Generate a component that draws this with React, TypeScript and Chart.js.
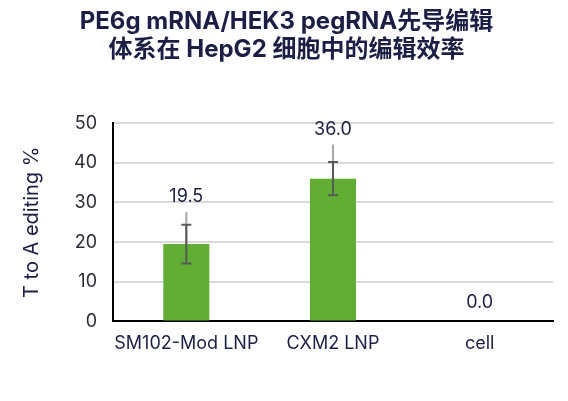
import React, { useEffect, useRef } from "react";
import { Chart, registerables } from "chart.js";

Chart.register(...registerables);

const categories = ["SM102-Mod LNP", "CXM2 LNP", "cell"];
const editing = [19.5, 36.0, 0.0];
// dark error bar (with caps), symmetric
const errSd = [4.9, 4.2, 0];
// light grey whisker above the bar
const errUpper = [8.1, 8.6, 0];
const yTicks = [0, 10, 20, 30, 40, 50];

const titleLines = ["PE6g mRNA/HEK3 pegRNA先导编辑", "体系在 HepG2 细胞中的编辑效率"];
const yTitle = "T to A editing %";

const FONT = "Inter, 'Noto Sans CJK SC', sans-serif";

const errorBarPlugin = {
  id: "errorBars",
  afterDatasetsDraw(chart: any) {
    const ctx = chart.ctx;
    const xs = chart.scales.x;
    const ys = chart.scales.y;
    ctx.save();
    editing.forEach((v, i) => {
      const x = xs.getPixelForValue(i);
      if (errUpper[i] > 0) {
        ctx.strokeStyle = "#a6a6a6";
        ctx.lineWidth = 2;
        ctx.beginPath();
        ctx.moveTo(x, ys.getPixelForValue(v));
        ctx.lineTo(x, ys.getPixelForValue(v + errUpper[i]));
        ctx.stroke();
      }
      if (errSd[i] > 0) {
        const top = ys.getPixelForValue(v + errSd[i]);
        const bot = ys.getPixelForValue(v - errSd[i]);
        ctx.strokeStyle = "#595959";
        ctx.lineWidth = 2;
        ctx.beginPath();
        ctx.moveTo(x, top);
        ctx.lineTo(x, bot);
        ctx.moveTo(x - 5, top);
        ctx.lineTo(x + 5, top);
        ctx.moveTo(x - 5, bot);
        ctx.lineTo(x + 5, bot);
        ctx.stroke();
      }
      // value label
      const labelY = ys.getPixelForValue(v + Math.max(errUpper[i], errSd[i])) - (errUpper[i] > 0 ? 15 : 19);
      ctx.fillStyle = "#1c1f45";
      ctx.font = `18px ${FONT}`;
      ctx.textAlign = "center";
      ctx.textBaseline = "middle";
      ctx.fillText(v.toFixed(1), x, labelY);
    });
    ctx.restore();
  },
};

const App: React.FC = () => {
  const chartRef = useRef<HTMLCanvasElement | null>(null);
  const chartInstance = useRef<Chart | null>(null);

  useEffect(() => {
    if (!chartRef.current) return;
    const ctx = chartRef.current.getContext("2d");
    if (!ctx) return;
    if (chartInstance.current) chartInstance.current.destroy();

    chartInstance.current = new Chart(ctx, {
      type: "bar",
      data: {
        labels: categories,
        datasets: [
          {
            label: yTitle,
            data: editing,
            backgroundColor: "#62ae35",
            barPercentage: 0.314,
            categoryPercentage: 1,
          },
        ],
      },
      options: {
        animation: false,
        responsive: false,
        layout: { padding: { left: 20, right: 15, top: 8, bottom: 44 } },
        plugins: {
          legend: { display: false },
          tooltip: { enabled: false },
          title: {
            display: true,
            text: titleLines,
            color: "#1c1f45",
            font: { family: FONT, size: 24, weight: "bold", lineHeight: 1.15 },
            padding: { top: 0, bottom: 60 },
          },
        },
        scales: {
          x: {
            grid: { display: false },
            border: { color: "#000", width: 2 },
            ticks: {
              color: "#1c1f45",
              font: { family: FONT, size: 18 },
              padding: 3,
              maxRotation: 0,
              minRotation: 0,
              autoSkip: false,
            },
          },
          y: {
            min: 0,
            max: 50,
            afterBuildTicks: (axis: any) => {
              axis.ticks = yTicks.map((value) => ({ value }));
            },
            grid: { color: "#d9d9d9", lineWidth: 2, drawTicks: false },
            border: { color: "#000", width: 2 },
            ticks: {
              color: "#2b2b3a",
              font: { family: FONT, size: 18 },
              padding: 16,
            },
            title: {
              display: true,
              text: yTitle,
              color: "#1c1f45",
              font: { family: FONT, size: 20 },
              padding: { top: 0, bottom: 14 },
            },
          },
        },
      },
      plugins: [errorBarPlugin],
    });

    return () => {
      if (chartInstance.current) {
        chartInstance.current.destroy();
        chartInstance.current = null;
      }
    };
  }, []);

  return (
    <div style={{ position: "fixed", left: 0, top: 0, width: 568, height: 401, background: "#fff" }}>
      <canvas ref={chartRef} width={568} height={401} style={{ width: 568, height: 401 }}></canvas>
    </div>
  );
};

export default App;
